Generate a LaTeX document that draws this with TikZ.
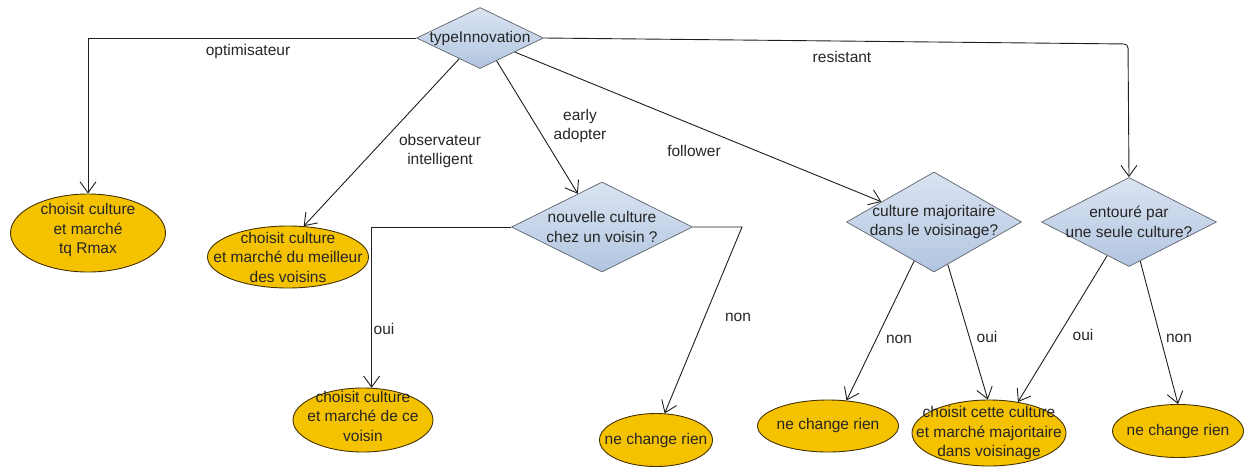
\documentclass[tikz,border=0pt]{standalone}
\usepackage{fontspec}
\setmainfont{Liberation Sans}
\usetikzlibrary{arrows.meta,shapes.geometric}
\definecolor{ellfill}{RGB}{245,194,0}
\definecolor{elldraw}{RGB}{70,50,0}
\definecolor{diatop}{RGB}{218,228,242}
\definecolor{diabot}{RGB}{178,197,224}
\definecolor{diadraw}{RGB}{95,100,110}
\definecolor{linec}{RGB}{30,30,30}
\tikzset{
  dia/.style={diamond, draw=diadraw, line width=0.7pt, top color=diatop, bottom color=diabot, inner sep=0pt},
  ell/.style={ellipse, draw=elldraw, line width=0.9pt, fill=ellfill, inner sep=0pt},
  txt/.style={align=center, inner sep=0pt, font=\fontsize{15.5}{19.5}\selectfont, text=black!85},
  lbl/.style={align=center, inner sep=0pt, font=\fontsize{15.5}{19.5}\selectfont, text=black!85},
  arr/.style={draw=linec, line width=0.9pt, -{Straight Barb[length=11pt,width=16pt,line width=0.9pt]}},
}
\begin{document}
\begin{tikzpicture}[x=1pt,y=-1pt]
\useasboundingbox (0,0) rectangle (1260,466);
% diamonds
\node[dia, minimum width=127pt, minimum height=61pt] (d0) at (480,38) {};
\node[txt] (t0) at (d0) {typeInnovation};
\node[dia, minimum width=181pt, minimum height=90pt] (d2) at (602,227) {};
\node[txt] (t2) at (d2) {nouvelle culture\\chez un voisin ?};
\node[dia, minimum width=175pt, minimum height=100pt] (d3) at (934,222) {};
\node[txt] (t3) at (d3) {culture majoritaire\\dans le voisinage?};
\node[dia, minimum width=175pt, minimum height=89pt] (d4) at (1129,222) {};
\node[txt] (t4) at (d4) {entouré par\\une seule culture?};
% ellipses
\node[ell, minimum width=155pt, minimum height=78pt] (e1) at (88,233) {};
\node[txt] (u1) at ([yshift=3pt]e1) {choisit culture\\et marché\\tq Rmax};
\node[ell, minimum width=161pt, minimum height=62pt] (e2) at (288,257) {};
\node[txt] (u2) at (e2) {choisit culture\\et marché du meilleur\\des voisins};
\node[ell, minimum width=140pt, minimum height=64pt] (e3) at (363,420) {};
\node[txt] (u3) at ([yshift=4pt]e3) {choisit culture\\et marché de ce\\voisin};
\node[ell, minimum width=113pt, minimum height=53pt] (e4) at (656,440) {};
\node[txt] (u4) at (e4) {ne change rien};
\node[ell, minimum width=141pt, minimum height=52pt] (e5) at (828,426) {};
\node[txt] (u5) at ([yshift=1pt]e5) {ne change rien};
\node[ell, minimum width=154pt, minimum height=66pt] (e6) at (989,433) {};
\node[txt] (u6) at (e6) {choisit cette culture\\et marché majoritaire\\dans voisinage};
\node[ell, minimum width=131pt, minimum height=53pt] (e7) at (1178,431) {};
\node[txt] (u7) at (e7) {ne change rien};
% connectors
\coordinate (rc) at (1128,44);
\coordinate (nc) at (742,227);
\draw[arr] (d0.west) -| (e1.north);
\draw[arr] (d0.225) -- (e2.63);
\draw[arr] (d0.-54) -- (d2.126);
\draw[arr] (d0.-22) -- (d3.159);
\draw[arr, rounded corners=4pt] (d0.east) -- (rc) -- (d4.north);
\draw[arr] (d2.west) -| (e3.75);
\draw[arr] (d2.east) -- (nc) -- (e4.72);
\draw[arr] (d3.243) -- (e5.54);
\draw[arr] (d3.-72) -- (e6.92);
\draw[arr] (d4.237) -- (e6.47);
\draw[arr] (d4.-74.6) -- (e7.90);
% labels
\node[lbl] (l1) at (248,51) {optimisateur};
\node[lbl] (l2) at (440,151) {observateur\\intelligent};
\node[lbl] (l3) at (580,126) {early\\adopter};
\node[lbl] (l4) at (694,151) {follower};
\node[lbl] (l5) at (842,57) {resistant};
\node[lbl] (l6) at (384,329) {oui};
\node[lbl] (l7) at (738,317) {non};
\node[lbl] (l8) at (899,339) {non};
\node[lbl] (l9) at (987,337) {oui};
\node[lbl] (l10) at (1083,335) {oui};
\node[lbl] (l11) at (1179,338) {non};
\end{tikzpicture}
\end{document}
